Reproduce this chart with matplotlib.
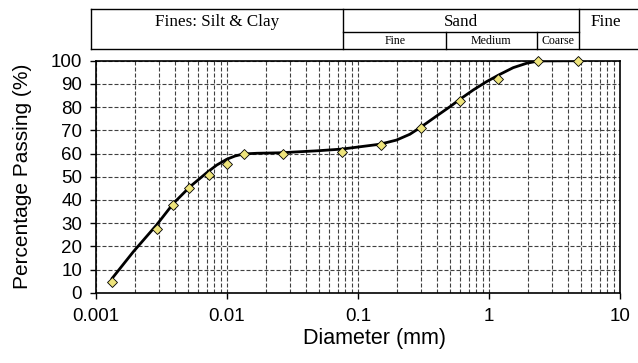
# Grain size distribution curve (percent passing vs. diameter)
import matplotlib
matplotlib.use('Agg')
import matplotlib.pyplot as plt
from matplotlib.lines import Line2D
from matplotlib.ticker import LogLocator, NullFormatter, FixedLocator, FixedFormatter

# measured points (sieve + hydrometer)
diameter_mm = [0.00132, 0.0029, 0.0039, 0.00515, 0.0073, 0.0100, 0.0134,
               0.0266, 0.075, 0.15, 0.3, 0.6, 1.18, 2.36, 4.75]
passing_pct = [4.7, 27.3, 37.8, 45.3, 50.9, 55.5, 59.8,
               59.7, 60.5, 63.7, 71.1, 82.8, 92.1, 100, 100]

# fitted curve
curve_d = [0.00132, 0.00193, 0.0029, 0.0039, 0.00522, 0.0070, 0.00834,
           0.00995, 0.0115, 0.0133, 0.0169, 0.0254, 0.05, 0.075, 0.1035,
           0.147, 0.197, 0.249, 0.306, 0.399, 0.504, 0.601, 0.759, 0.96,
           1.21, 1.53, 1.94, 2.38, 4.75]
curve_p = [6.0, 17.7, 29.2, 38.5, 45.7, 51.7, 55.0,
           57.5, 58.9, 59.8, 60.1, 60.3, 61.2, 61.9, 62.9,
           64.0, 65.8, 68.3, 71.6, 76.2, 80.2, 83.4, 87.4, 91.0,
           94.1, 97.0, 98.9, 99.9, 100]

x_ticks = [0.001, 0.01, 0.1, 1, 10]
x_tick_labels = ['0.001', '0.01', '0.1', '1', '10']
y_ticks = list(range(0, 101, 10))

W, H = 638, 363
fig = plt.figure(figsize=(W / 100, H / 100), dpi=100)
ax = fig.add_axes([96 / W, 1 - 292.7 / H, (620 - 96) / W, (292.7 - 60.7) / H])

sans = 'Liberation Sans'
serif = 'Liberation Serif'

ax.set_xscale('log')
ax.set_xlim(0.001, 10)
ax.set_ylim(0, 100)

# grid
dash = (0, (3.6, 1.8))
ax.xaxis.set_minor_locator(LogLocator(base=10, subs=range(2, 10)))
ax.xaxis.set_minor_formatter(NullFormatter())
ax.grid(True, which='major', axis='both', color='0.25', lw=0.8, linestyle=dash)
ax.grid(True, which='minor', axis='x', color='0.25', lw=0.8, linestyle=dash)
ax.set_axisbelow(True)

ax.plot(curve_d, curve_p, color='black', lw=2.0, solid_capstyle='round',
        solid_joinstyle='round', zorder=3)
ax.plot(diameter_mm, passing_pct, linestyle='none', marker='D', markersize=5.6,
        markerfacecolor='#EEE47C', markeredgecolor='black', markeredgewidth=0.6,
        zorder=4, clip_on=False)

ax.xaxis.set_major_locator(FixedLocator(x_ticks))
ax.xaxis.set_major_formatter(FixedFormatter(x_tick_labels))
ax.set_yticks(y_ticks)
ax.tick_params(axis='both', which='major', direction='out', length=4, width=1,
               labelsize=13.5, pad=6)
ax.tick_params(axis='x', which='minor', length=0)
for lab in ax.get_xticklabels() + ax.get_yticklabels():
    lab.set_fontfamily(sans)
ax.tick_params(axis='x', pad=7)

for s in ax.spines.values():
    s.set_linewidth(1.2)
    s.set_color('black')

fig.text(22.7 / W, 1 - 176.7 / H, 'Percentage Passing (%)', rotation=90,
         ha='center', va='center', fontsize=15, family=sans)
fig.text(374.7 / W, 1 - 338.3 / H, 'Diameter (mm)', ha='center', va='center',
         fontsize=15.5, family=sans)

# soil classification header (pixel coords)
def hline(x0, x1, y):
    fig.add_artist(Line2D([x0 / W, x1 / W], [1 - y / H, 1 - y / H],
                          transform=fig.transFigure, color='black', lw=1))

def vline(x, y0, y1):
    fig.add_artist(Line2D([x / W, x / W], [1 - y0 / H, 1 - y1 / H],
                          transform=fig.transFigure, color='black', lw=1))

top, mid, bot = 9.3, 32.0, 49.3
hline(90.7, W, top)
hline(90.7, W, bot)
hline(343.3, 579.3, mid)
vline(90.7, top, bot)
vline(343.3, top, bot)
vline(579.3, top, bot)
vline(446.0, mid, bot)
vline(536.7, mid, bot)

def label(x, y, txt, size):
    fig.text(x / W, 1 - y / H, txt, ha='center', va='center', fontsize=size,
             family=serif)

label(217.0, 22.5, 'Fines: Silt & Clay', 12.3)
label(461.3, 21.5, 'Sand', 12.3)
label(605.7, 21.8, 'Fine', 12.3)
label(394.7, 41.0, 'Fine', 8.6)
label(491.3, 41.0, 'Medium', 8.6)
label(558.0, 41.3, 'Coarse', 8.6)

fig.savefig('out.png', dpi=100)
